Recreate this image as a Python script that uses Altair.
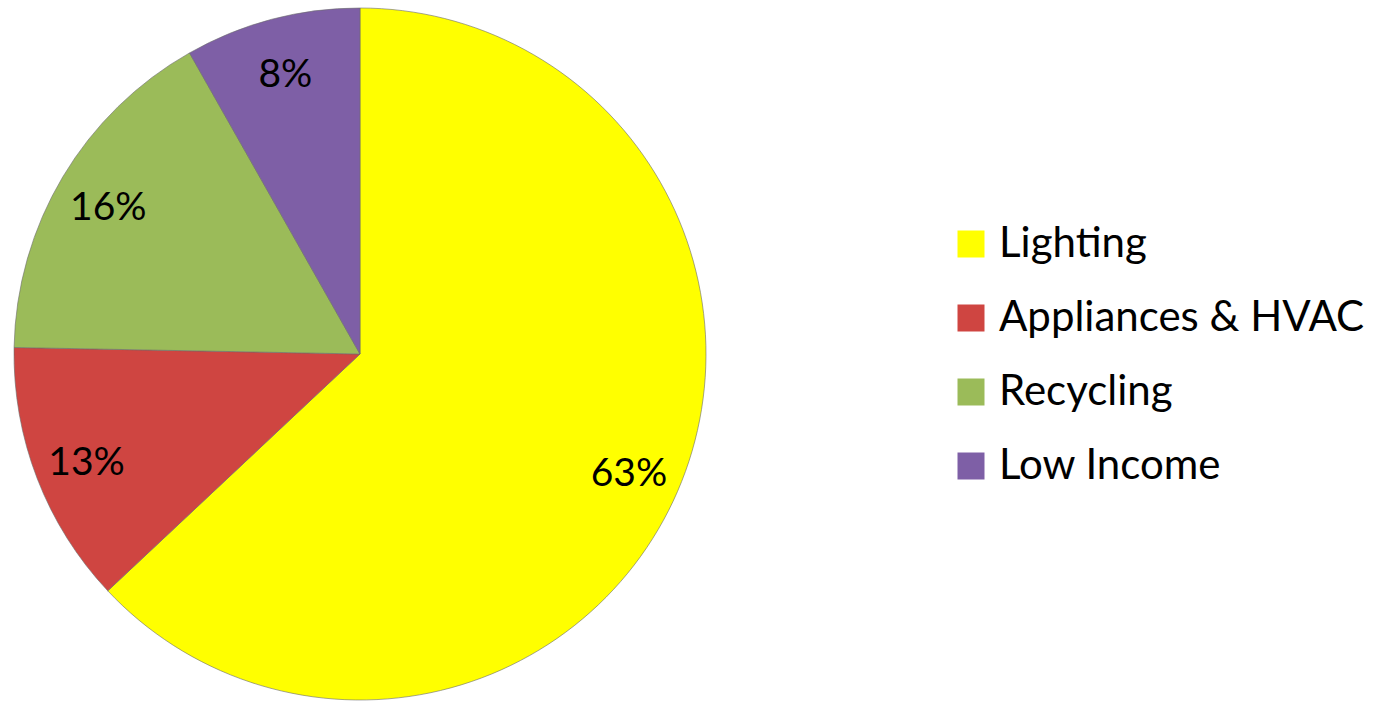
import altair as alt
import pandas as pd

categories = ["Lighting", "Appliances & HVAC", "Recycling", "Low Income"]
shares = [63.0, 12.3, 16.5, 8.2]
labels = ["63%", "13%", "16%", "8%"]
colors = ["#FFFF00", "#CF4541", "#9BBB59", "#7E5FA6"]

df = pd.DataFrame({"category": categories, "share": shares, "label": labels,
                   "order": list(range(len(categories)))})

FONT = "Lato"
cx, cy, R = 360, 354, 346

color = alt.Color(
    "category:N",
    scale=alt.Scale(domain=categories, range=colors),
    sort=categories,
    legend=alt.Legend(
        title=None, orient="none", legendX=950, legendY=223,
        symbolType="square", symbolSize=729, symbolStrokeWidth=0,
        symbolOpacity=1, labelFontSize=42, labelFont=FONT, labelColor="#000000",
        rowPadding=32, labelOffset=7, labelLimit=600, padding=0,
    ),
)

base = alt.Chart(df).encode(
    theta=alt.Theta("share:Q", stack=True),
    order=alt.Order("order:Q"),
)

pie = base.mark_arc(outerRadius=R, stroke="#6b6b6b", strokeWidth=0.6, opacity=1).encode(
    x=alt.value(cx), y=alt.value(cy), color=color,
)

text = base.mark_text(font=FONT, fontSize=39, color="#000000", dy=4).encode(
    x=alt.value(cx), y=alt.value(cy), radius=alt.value(293), text="label:N",
)

chart = alt.layer(pie, text).properties(
    width=1386, height=703, padding=0, autosize=alt.AutoSizeParams(type="none"),
).configure_view(stroke=None)

chart.save("out.html", embed_options={"renderer": "svg", "actions": False})
